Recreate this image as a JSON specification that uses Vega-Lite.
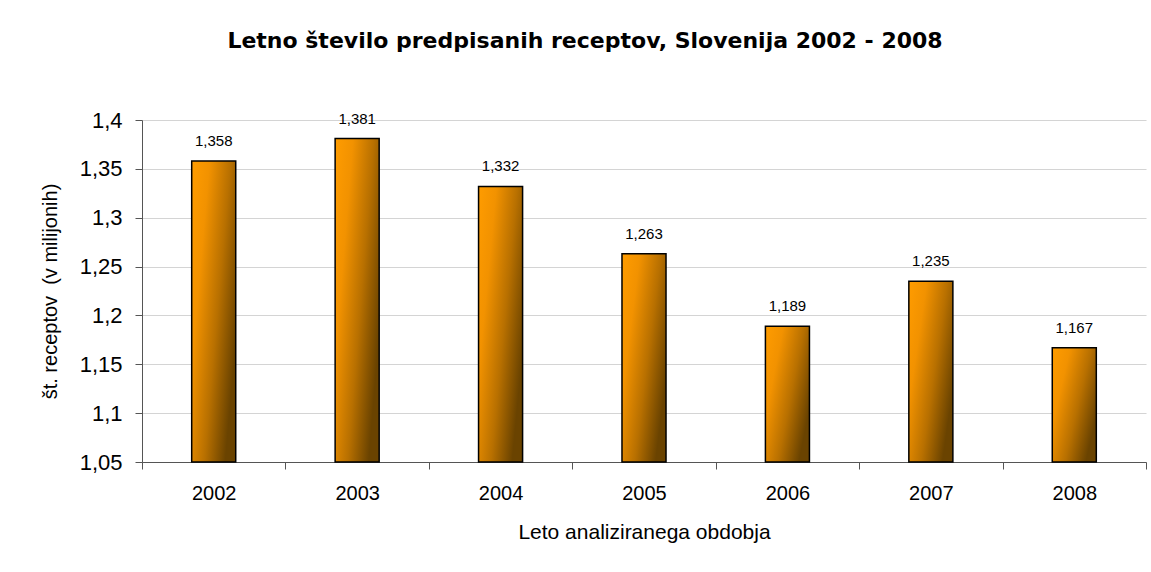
{
  "$schema": "https://vega.github.io/schema/vega-lite/v6.json",
  "autosize": {"type": "none"},
  "width": 1004,
  "height": 342,
  "padding": {"left": 142, "top": 120, "right": 5, "bottom": 110},
  "background": "white",
  "config": {
    "font": "Liberation Sans",
    "view": {"stroke": null},
    "locale": {"number": {"decimal": ",", "thousands": ".", "grouping": [3], "currency": ["", " €"]}},
    "title": {"font": "DejaVu Sans", "fontSize": 22, "fontWeight": "bold", "color": "#000000"}
  },
  "title": {
    "text": "Letno število predpisanih receptov, Slovenija 2002 - 2008",
    "anchor": "middle",
    "frame": "group",
    "dx": -59,
    "baseline": "alphabetic",
    "offset": 39
  },
  "data": {
    "values": [
      {"leto": "2002", "recepti": 1.358},
      {"leto": "2003", "recepti": 1.381},
      {"leto": "2004", "recepti": 1.332},
      {"leto": "2005", "recepti": 1.263},
      {"leto": "2006", "recepti": 1.189},
      {"leto": "2007", "recepti": 1.235},
      {"leto": "2008", "recepti": 1.167}
    ]
  },
  "encoding": {
    "x": {
      "field": "leto",
      "type": "nominal",
      "scale": {"paddingInner": 0, "paddingOuter": 0},
      "axis": {
        "title": "Leto analiziranega obdobja",
        "titleFontSize": 21,
        "titleFontWeight": "normal",
        "titleColor": "#000000",
        "titlePadding": 18,
        "labelAngle": 0,
        "labelFontSize": 20,
        "labelColor": "#000000",
        "labelPadding": 14,
        "tickBand": "extent",
        "tickSize": 7,
        "tickColor": "#555555",
        "domainColor": "#555555",
        "grid": false
      }
    },
    "y": {
      "field": "recepti",
      "type": "quantitative",
      "scale": {"domain": [1.05, 1.4], "zero": false, "nice": false},
      "axis": {
        "title": "št. receptov \u00a0(v milijonih)",
        "titleFontSize": 20,
        "titleFontWeight": "normal",
        "titleColor": "#000000",
        "titlePadding": 19,
        "values": [1.05, 1.1, 1.15, 1.2, 1.25, 1.3, 1.35, 1.4],
        "format": ".2~f",
        "labelFontSize": 22,
        "labelColor": "#000000",
        "labelPadding": 13,
        "tickSize": 7,
        "tickColor": "#555555",
        "domainColor": "#555555",
        "gridColor": "#d4d4d4",
        "gridWidth": 1.2
      }
    }
  },
  "layer": [
    {
      "mark": {
        "type": "bar",
        "width": {"band": 0.307},
        "stroke": "#000000",
        "strokeWidth": 1.5,
        "color": {
          "gradient": "linear",
          "x1": 0, "y1": 0, "x2": 1, "y2": 0.6,
          "stops": [
            {"offset": 0, "color": "#ff9c00"},
            {"offset": 0.3, "color": "#f29200"},
            {"offset": 0.65, "color": "#b87000"},
            {"offset": 1, "color": "#6a4300"}
          ]
        }
      },
      "encoding": {
        "y2": {"datum": 1.05}
      }
    },
    {
      "mark": {"type": "text", "baseline": "alphabetic", "dy": -15, "fontSize": 15, "color": "#000000"},
      "encoding": {
        "text": {"field": "recepti", "type": "quantitative", "format": ".3f"}
      }
    }
  ]
}
